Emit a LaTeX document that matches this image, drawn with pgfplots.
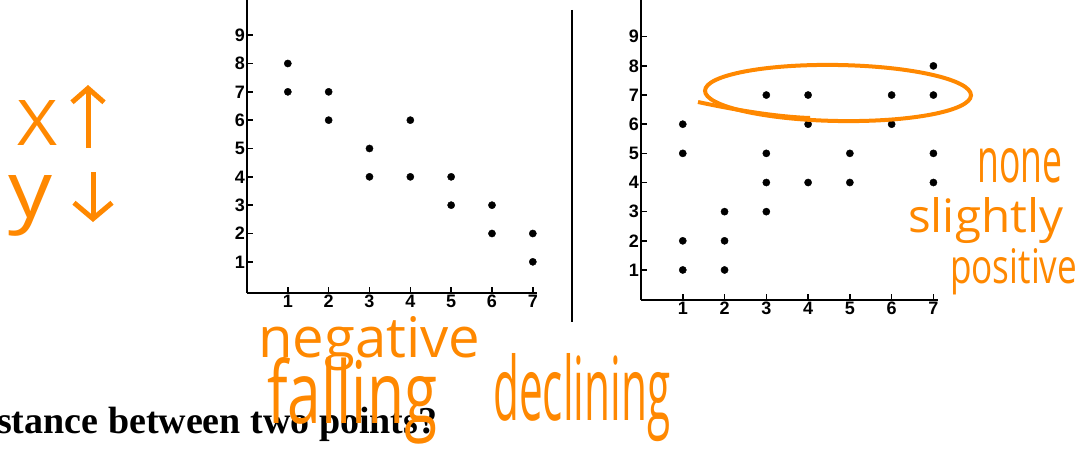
\documentclass[border=0pt]{standalone}
\usepackage{graphicx}
\usepackage{fontspec}
\usepackage{pgfplots}
\pgfplotsset{compat=1.18}
\usetikzlibrary{arrows.meta}
\setmainfont{Liberation Serif}
\newfontfamily\ticksf{Liberation Sans}
\newfontfamily\hand{Open Sans}
\definecolor{pen}{RGB}{255,136,0}

\pgfplotstableread{
x y
1 8
1 7
2 7
2 6
3 5
3 4
4 6
4 4
5 4
5 3
6 3
6 2
7 2
7 1
}\leftdata

\pgfplotstableread{
x y
1 6
1 5
1 2
1 1
2 3
2 2
2 1
3 7
3 5
3 4
3 3
4 7
4 6
4 4
5 5
5 4
6 7
6 6
7 8
7 7
7 5
7 4
}\rightdata

\newcommand{\tickfont}{\ticksf\bfseries\fontsize{18}{18}\selectfont}

\pgfplotsset{
  myax/.style={
    scale only axis,
    axis x line=bottom, axis y line=left,
    axis line style={line width=2pt,-},
    xmin=0, xmax=7.1,
    xtick={1,...,7}, ytick={1,...,9},
    xticklabels={1,2,3,4,5,6,7},
    yticklabels={1,2,3,4,5,6,7,8,9},
    tick align=inside,
    major tick length=6pt,
    tick style={black, line width=1.5pt},
    /pgf/number format/assume math mode=true,
    ticklabel style={font=\tickfont, inner sep=1pt},
    xticklabel style={yshift=-1pt},
    yticklabel style={xshift=-1pt},
    clip=false,
  }
}

\begin{document}
\begin{tikzpicture}[x=1pt,y=1pt]
\begin{scope}
\clip (0,0) rectangle (1082,451);

% left chart
\begin{axis}[myax, at={(247pt,158pt)}, anchor=south west,
  width=289.9pt, height=292.7pt, ymin=-0.1, ymax=10.23]
\addplot[only marks, mark=*, mark size=3.6pt, black] table[x=x,y=y] {\leftdata};
\end{axis}

% right chart
\begin{axis}[myax, at={(641pt,151pt)}, anchor=south west,
  width=296.6pt, height=300pt, ymin=-0.03, ymax=10.26]
\addplot[only marks, mark=*, mark size=3.6pt, black] table[x=x,y=y] {\rightdata};
\end{axis}

% separator
\draw[line width=2pt] (572,441) -- (572,129);

% bottom printed text
\node[anchor=base west, inner sep=0pt, font=\bfseries\fontsize{38}{38}\selectfont] at (-3,18) {stance between two points?};

% handwritten annotations
\begin{scope}[pen]
\node[anchor=base west, inner sep=0pt] at (17,306) {\resizebox{40pt}{45pt}{\hand X}};
\draw[line width=5pt, -{Straight Barb[length=14pt,width=32pt]}] (88,303) -- (88,366);
\node[anchor=base west, inner sep=0pt] at (8,234) {\resizebox{44pt}{42pt}{\hand y}};
\draw[line width=5pt, -{Straight Barb[length=16pt,width=38pt]}] (93,279) -- (93,229);

\node[anchor=base west, inner sep=0pt] at (258,94) {\resizebox{222pt}{41pt}{\hand negative}};
\node[anchor=base west, inner sep=0pt] at (267,28) {\resizebox{170pt}{66pt}{\hand falling}};
\node[anchor=base west, inner sep=0pt] at (493,31) {\resizebox{177pt}{67pt}{\hand declining}};

\node[anchor=base west, inner sep=0pt] at (977,269) {\resizebox{85pt}{34pt}{\hand none}};
\node[anchor=base west, inner sep=0pt] at (908,219) {\resizebox{155pt}{35pt}{\hand slightly}};
\node[anchor=base west, inner sep=0pt] at (950,168) {\resizebox{127pt}{35pt}{\hand positive}};

\draw[line width=4pt, rotate around={-1:(838,358)}] (838,358) ellipse [x radius=133, y radius=28];
\draw[line width=4pt] (698,349) .. controls (740,340) and (780,334) .. (810,333);
\end{scope}
\end{scope}
\pgfresetboundingbox
\path[use as bounding box] (0,0) rectangle (1082,451);
\end{tikzpicture}
\end{document}
